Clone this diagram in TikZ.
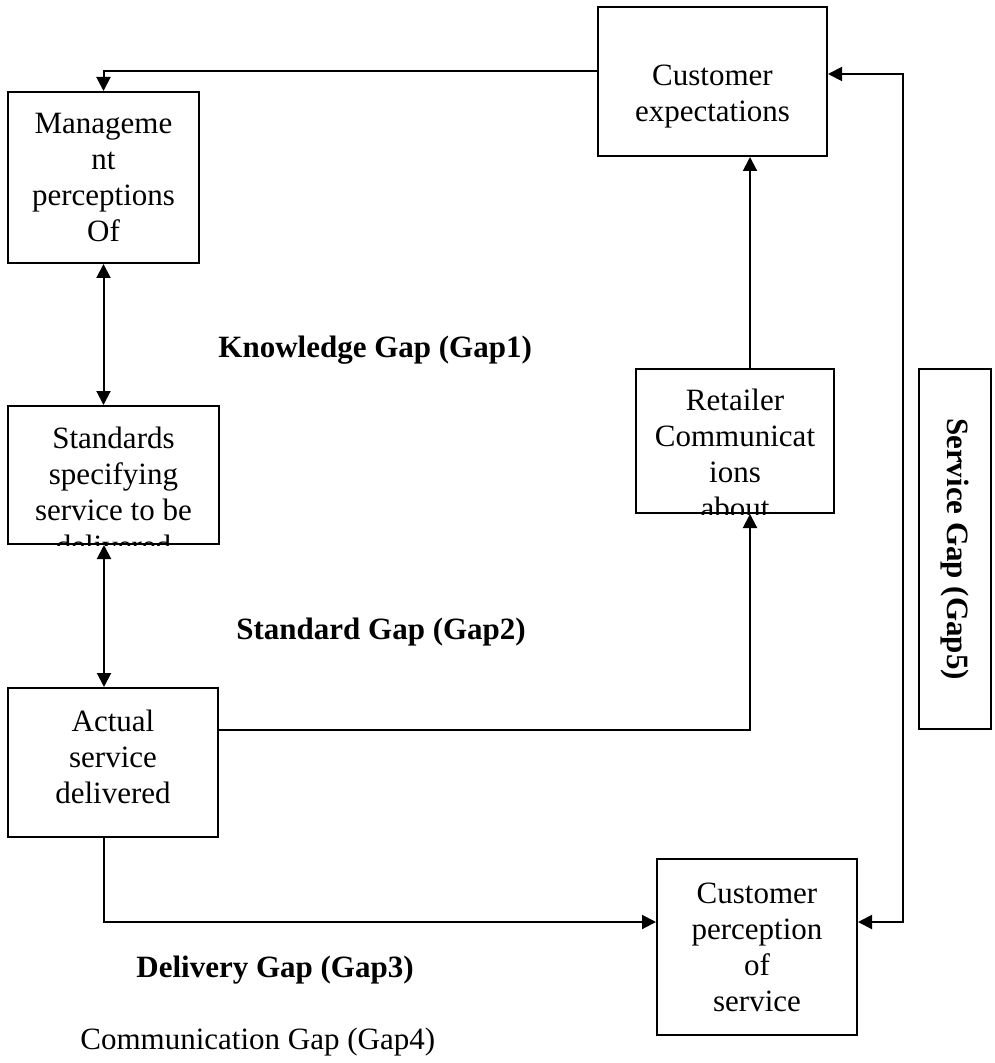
\documentclass[tikz,border=0pt]{standalone}
\usepackage{fontspec}
\setmainfont{Liberation Serif}
\usetikzlibrary{arrows.meta,calc,positioning}
\tikzset{
    box/.style={rectangle, draw, line width=1pt, inner sep=0pt},
    boxtext/.style={inner sep=0pt, align=center, font=\fontsize{15.5}{18}\selectfont},
    arr/.style={-{Triangle[length=7pt,width=7pt]}, line width=1pt},
    dbl/.style={{Triangle[length=7pt,width=7pt]}-{Triangle[length=7pt,width=7pt]}, line width=1pt},
    gaplabel/.style={inner sep=0pt, anchor=west, font=\fontsize{15.5}{18}\selectfont\bfseries}
}

\begin{document}
\begin{tikzpicture}[x=0.5pt,y=-0.5pt]
    \useasboundingbox (0,0) rectangle (994,1063);
    % Boxes
    \node[box, minimum width=114.5pt, minimum height=74.5pt] (custexp) at (712.5,81.5) {};
    \node[box, minimum width=95.5pt, minimum height=85.5pt] (mgmt) at (103.5,177.5) {};
    \node[box, minimum width=105.5pt, minimum height=69pt] (stds) at (113.5,475) {};
    \node[box, minimum width=105pt, minimum height=74.5pt] (actual) at (113,762.5) {};
    \node[box, minimum width=99pt, minimum height=72pt] (retailer) at (735,441) {};
    \node[box, minimum width=100pt, minimum height=88pt] (perception) at (757,947) {};
    \node[box, minimum width=36pt, minimum height=180pt] (svcgap) at (955,549) {};
    % Texts in the boxes
    \node[boxtext] (custexptext) at ([yshift=-7.5pt]custexp.center) {Customer\\expectations};
    \node[boxtext] (mgmttext) at (mgmt.center) {Manageme\\nt\\perceptions\\Of};
    \node[boxtext] (actualtext) at ([yshift=3pt]actual.center) {Actual\\service\\delivered};
    \node[boxtext] (perceptiontext) at (perception.center) {Customer\\perception\\of\\service};
    \node[boxtext, rotate=-90, font=\fontsize{15.5}{18}\selectfont\bfseries] (svcgaptext) at (svcgap.center) {Service Gap (Gap5)};
    % Text cut off by the box
    \begin{scope}
        \clip (stds.south west) rectangle (stds.north east);
        \node[boxtext] (stdstext) at ([yshift=-8.5pt]stds.center) {Standards\\specifying\\service to be\\delivered};
    \end{scope}
    \begin{scope}
        \clip (retailer.south west) rectangle (retailer.north east);
        \node[boxtext] (rettext) at ([yshift=-6.5pt]retailer.center) {Retailer\\Communicat\\ions\\about};
    \end{scope}
    % Gap labels
    \node[gaplabel] (gap1) at (218,350) {Knowledge Gap (Gap1)};
    \node[gaplabel] (gap2) at (236,632) {Standard Gap (Gap2)};
    \node[gaplabel] (gap3) at (136,970) {Delivery Gap (Gap3)};
    \node[gaplabel, font=\fontsize{15.5}{18}\selectfont] (gap4) at (80,1042) {Communication Gap (Gap4)};
    % Connectors
    \coordinate (lcol) at (104,0);
    \coordinate (rcol) at (750,0);
    \coordinate (rline) at (903,0);
    \coordinate (dline) at (0,922);
    \draw[arr] (custexp.west |- 0,71) -| (mgmt.north);
    \path[dbl] (mgmt.south) edge (mgmt.south |- stds.north);
    \draw[dbl] (stds.south -| lcol) -- (actual.north -| lcol);
    \draw[arr] (actual.east |- 0,730) -| (retailer.south -| rcol);
    \draw[arr] (retailer.north -| rcol) -- (custexp.south -| rcol);
    \draw[arr] (actual.south -| lcol) |- (perception.west |- dline);
    \draw[dbl] (custexp.east |- 0,74) -| (rline |- dline) -- (perception.east |- dline);
\end{tikzpicture}
\end{document}
